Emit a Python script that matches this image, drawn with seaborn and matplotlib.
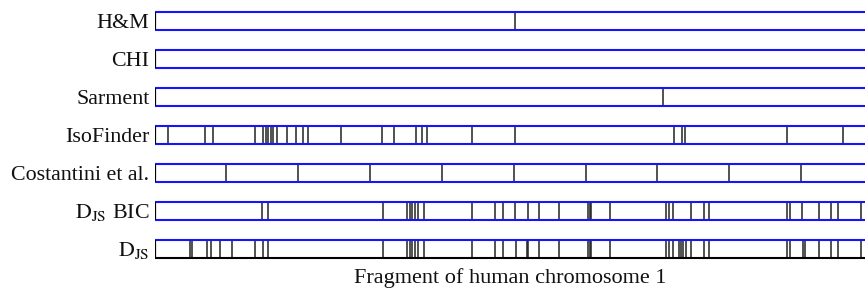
import numpy as np
import pandas as pd
import matplotlib
matplotlib.use("Agg")
import matplotlib.pyplot as plt
import seaborn as sns

# segment boundaries along the fragment (arbitrary position units, 0..710)
methods = ["H&M", "CHI", "Sarment", "IsoFinder", "Costantini et al.",
           r"$\mathrm{D_{JS}}$ BIC", r"$\mathrm{D_{JS}}$"]
hm = [360]
chi = []
sarment = [508]
isofinder = [12.7, 50, 58.3, 100, 108, 110.5, 113, 115.5, 117.5, 121.7, 131.7,
             140.7, 147.7, 153.3, 185.7, 227.3, 239, 261, 266.7, 272, 317.3,
             360, 519, 527, 530.3, 632.3, 688.3]
costantini = [71, 142.7, 215, 286.7, 358.7, 430.7, 502.3, 574.3, 646.3]
djs_bic = [107.3, 112.7, 227.5, 252, 254.5, 257, 259.5, 263.3, 268.5, 316.7,
           340.3, 347.8, 360, 373.2, 383.5, 404, 433, 434.5, 436, 454.5, 511,
           513.8, 517.5, 536, 549, 553.5, 632, 634.5, 647, 664.3, 675.5,
           683.3, 706]
djs = [35, 36.7, 51.7, 55.8, 65.3, 77.3, 100, 107.8, 113, 227.5, 252, 254.5,
       257, 259.5, 263.3, 268.5, 316.7, 340.3, 347.8, 360.5, 372, 373,
       383.5, 404, 433, 434.5, 436, 454.5, 511, 514, 517.5, 523.7, 526.3,
       528.3, 531, 536, 549, 553.5, 632, 634.5, 647.5, 650.3, 664.3, 675.5,
       683.3, 706]
fragment_length = 710

rows = [hm, chi, sarment, isofinder, costantini, djs_bic, djs]
df = pd.DataFrame([(i, p) for i, r in enumerate(rows) for p in r],
                  columns=["row", "position"])

sns.set_style("white")
plt.rcParams["font.family"] = ["Liberation Serif", "DejaVu Serif"]
plt.rcParams["mathtext.fontset"] = "stix"

fig = plt.figure(figsize=(8.65, 2.89), dpi=100)
ax = fig.add_axes([155 / 865, 0, 1 - 155 / 865, 1])

half = 0.245
n = len(methods)
for i in range(n):
    ax.hlines(i - half, 0, fragment_length, color="#1414ff", lw=1.5, zorder=3)
    bottom_col = "black" if i == n - 1 else "#1414ff"
    ax.hlines(i + half, 0, fragment_length, color=bottom_col, lw=1.5, zorder=3)
    # left edge of each track
    ax.vlines(0, i - half, i + half, color="black", lw=1.6, zorder=4)

ax.vlines(df["position"], df["row"] - half, df["row"] + half,
          color="#222222", lw=1.1, zorder=2)

for i, name in enumerate(methods):
    ax.text(-0.008, i + 0.188, name, transform=ax.get_yaxis_transform(),
            ha="right", va="baseline", fontsize=15.8, color="#111111")

fig.text(0.59, 1 - 283 / 289, "Fragment of human chromosome 1",
         ha="center", va="baseline", fontsize=16, color="#111111")

ax.set_xlim(0, fragment_length)
ax.set_ylim(7.056, -0.549)
ax.axis("off")

fig.savefig("out.png", dpi=100)
